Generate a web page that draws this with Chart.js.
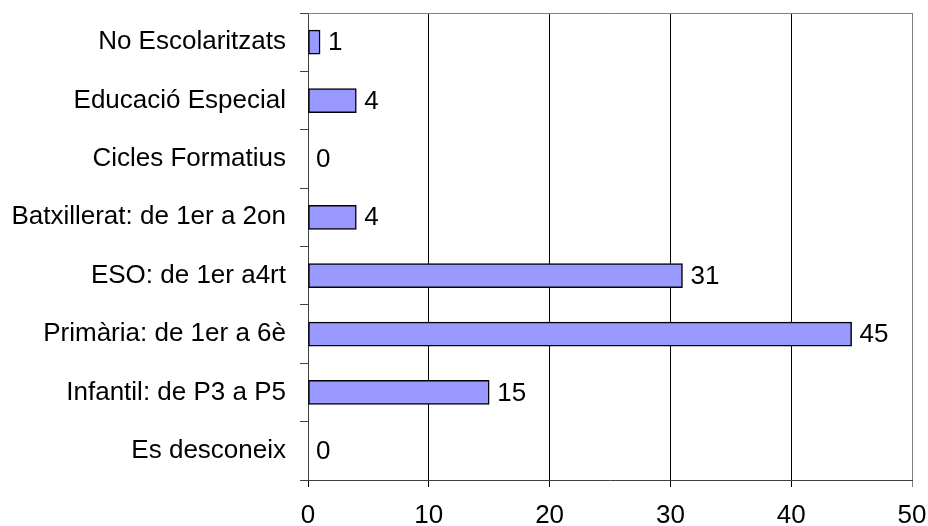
<!DOCTYPE html>
<html>
<head>
<meta charset="utf-8">
<script src="https://cdn.jsdelivr.net/npm/chart.js@4"></script>
<style>
  body { margin: 0; background: #fff; }
</style>
</head>
<body>
<canvas id="chart" width="928" height="526"></canvas>
<script>
const categories = ['No Escolaritzats', 'Educació Especial', 'Cicles Formatius', 'Batxillerat: de 1er a 2on',
  'ESO: de 1er a4rt', 'Primària: de 1er a 6è', 'Infantil: de P3 a P5', 'Es desconeix'];
const alumnes = [1, 4, 0, 4, 31, 45, 15, 0];
const xTicks = [0, 10, 20, 30, 40, 50];

const FONT = "'Liberation Sans', Arial, sans-serif";

// numbers written just past the end of each bar
const valueLabels = {
  id: 'valueLabels',
  afterDatasetsDraw(chart) {
    const ctx = chart.ctx;
    const meta = chart.getDatasetMeta(0);
    ctx.save();
    ctx.font = '26px ' + FONT;
    ctx.fillStyle = '#000';
    ctx.textBaseline = 'middle';
    ctx.textAlign = 'left';
    meta.data.forEach((bar, i) => {
      ctx.fillText(String(alumnes[i]), bar.x + 8, bar.y + 1);
    });
    ctx.restore();
  }
};

// grey frame on the top and right of the plot
const frame = {
  id: 'frame',
  beforeDatasetsDraw(chart) {
    const { left, top, right, bottom } = chart.chartArea;
    const ctx = chart.ctx;
    ctx.save();
    ctx.strokeStyle = '#808080';
    ctx.lineWidth = 1;
    ctx.beginPath();
    ctx.moveTo(left, top + 0.5);
    ctx.lineTo(right + 0.5, top + 0.5);
    ctx.lineTo(right + 0.5, bottom);
    ctx.stroke();
    ctx.restore();
  }
};

new Chart(document.getElementById('chart'), {
  type: 'bar',
  data: {
    labels: categories,
    datasets: [{
      data: alumnes,
      backgroundColor: '#9999ff',
      borderColor: '#000',
      borderWidth: 1.5,
      borderSkipped: false,
      barThickness: 24
    }]
  },
  options: {
    indexAxis: 'y',
    responsive: false,
    animation: false,
    layout: { padding: { top: 13, right: 16, left: 0, bottom: 0 } },
    plugins: { legend: { display: false }, tooltip: { enabled: false } },
    scales: {
      x: {
        min: 0,
        max: 50,
        afterBuildTicks(scale) { scale.ticks = xTicks.map(v => ({ value: v })); },
        afterFit(scale) {
          scale.height = 46;
          scale.paddingLeft = 0;
          scale.paddingRight = 0;
        },
        grid: {
          color: ctx => ctx.index === xTicks.length - 1 ? '#808080' : '#000',
          lineWidth: 1,
          tickLength: 7
        },
        border: { color: '#404040', width: 1 },
        ticks: { color: '#000', font: { family: FONT, size: 26 }, padding: 13, maxRotation: 0 }
      },
      y: {
        afterFit(scale) {
          scale.width = 308;
          scale.paddingTop = 0;
          scale.paddingBottom = 0;
        },
        grid: {
          offset: true,
          drawOnChartArea: false,
          color: '#404040',
          tickLength: 8
        },
        border: { color: '#404040', width: 1 },
        ticks: { color: '#000', font: { family: FONT, size: 26 }, padding: 14 }
      }
    }
  },
  plugins: [frame, valueLabels]
});
</script>
</body>
</html>
